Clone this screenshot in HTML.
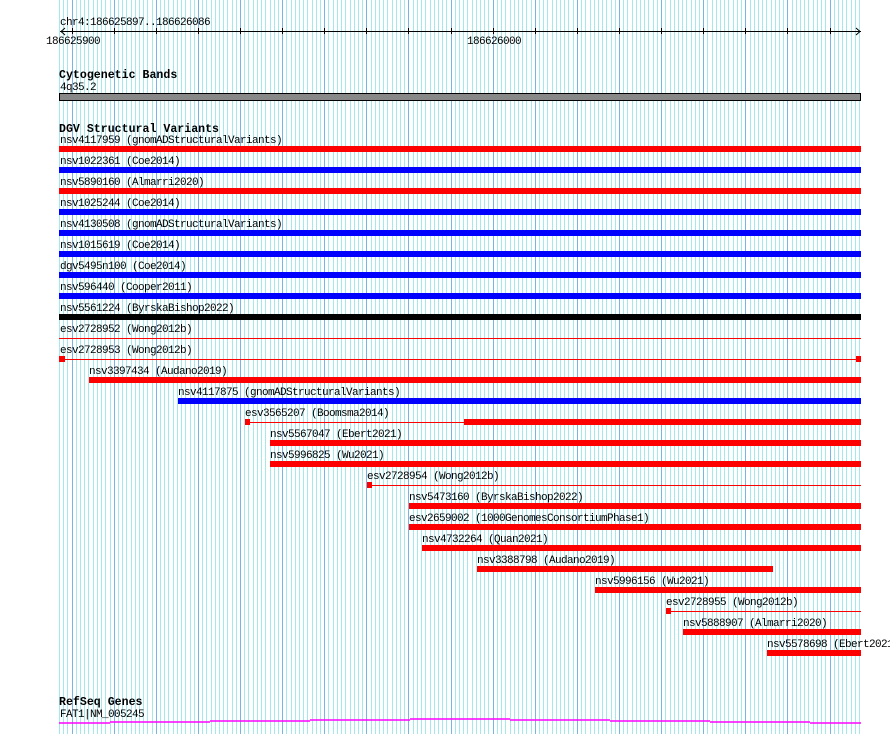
<!DOCTYPE html>
<html><head><meta charset="utf-8">
<style>
html,body{margin:0;padding:0;background:#fff;}
svg{display:block;}
text{font-family:"Liberation Mono",monospace;font-size:11px;letter-spacing:-0.6px;fill:#000;}
.h{font-weight:bold;font-size:11.6px;letter-spacing:0;}
</style></head>
<body>
<svg id="s" width="890" height="734" viewBox="0 0 890 734" xmlns="http://www.w3.org/2000/svg">
<g id="grid"></g>
<text x="60" y="25">chr4:186625897..186626086</text>
<line x1="60" y1="31.5" x2="861" y2="31.5" stroke="#000" stroke-width="1"/>
<polyline points="65,28 61,31.5 65,35" fill="none" stroke="#000"/>
<polyline points="856,28 860,31.5 856,35" fill="none" stroke="#000"/>
<g id="ticks" stroke="#000"></g>
<text x="46" y="44">186625900</text>
<text x="467" y="44">186626000</text>
<text class="h" x="59" y="78">Cytogenetic Bands</text>
<text x="60" y="90">4q35.2</text>
<rect x="59.5" y="93.5" width="801" height="7" fill="#888" stroke="#000"/>
<text class="h" x="59" y="132">DGV Structural Variants</text>
<g id="dgv">
<text x="60" y="143">nsv4117959 (gnomADStructuralVariants)</text>
<rect x="59" y="146" width="802" height="6" fill="#f00"/>
<text x="60" y="164">nsv1022361 (Coe2014)</text>
<rect x="59" y="167" width="802" height="6" fill="#00f"/>
<text x="60" y="185">nsv5890160 (Almarri2020)</text>
<rect x="59" y="188" width="802" height="6" fill="#f00"/>
<text x="60" y="206">nsv1025244 (Coe2014)</text>
<rect x="59" y="209" width="802" height="6" fill="#00f"/>
<text x="60" y="227">nsv4130508 (gnomADStructuralVariants)</text>
<rect x="59" y="230" width="802" height="6" fill="#00f"/>
<text x="60" y="248">nsv1015619 (Coe2014)</text>
<rect x="59" y="251" width="802" height="6" fill="#00f"/>
<text x="60" y="269">dgv5495n100 (Coe2014)</text>
<rect x="59" y="272" width="802" height="6" fill="#00f"/>
<text x="60" y="290">nsv596440 (Cooper2011)</text>
<rect x="59" y="293" width="802" height="6" fill="#00f"/>
<text x="60" y="311">nsv5561224 (ByrskaBishop2022)</text>
<rect x="59" y="314" width="802" height="6" fill="#000"/>
<text x="60" y="332">esv2728952 (Wong2012b)</text>
<rect x="59" y="338" width="802" height="1" fill="#f00"/>
<text x="60" y="353">esv2728953 (Wong2012b)</text>
<rect x="59" y="359" width="802" height="1" fill="#f00"/>
<rect x="59" y="356" width="6" height="6" fill="#f00"/>
<rect x="856" y="356" width="5" height="6" fill="#f00"/>
<text x="89" y="374">nsv3397434 (Audano2019)</text>
<rect x="89" y="377" width="772" height="6" fill="#f00"/>
<text x="178" y="395">nsv4117875 (gnomADStructuralVariants)</text>
<rect x="178" y="398" width="683" height="6" fill="#00f"/>
<text x="245" y="416">esv3565207 (Boomsma2014)</text>
<rect x="245" y="422" width="219" height="1" fill="#f00"/>
<rect x="245" y="419" width="5" height="6" fill="#f00"/>
<rect x="464" y="419" width="397" height="6" fill="#f00"/>
<text x="270" y="437">nsv5567047 (Ebert2021)</text>
<rect x="270" y="440" width="591" height="6" fill="#f00"/>
<text x="270" y="458">nsv5996825 (Wu2021)</text>
<rect x="270" y="461" width="591" height="6" fill="#f00"/>
<text x="367" y="479">esv2728954 (Wong2012b)</text>
<rect x="367" y="485" width="494" height="1" fill="#f00"/>
<rect x="367" y="482" width="5" height="6" fill="#f00"/>
<text x="409" y="500">nsv5473160 (ByrskaBishop2022)</text>
<rect x="409" y="503" width="452" height="6" fill="#f00"/>
<text x="409" y="521">esv2659002 (1000GenomesConsortiumPhase1)</text>
<rect x="409" y="524" width="452" height="6" fill="#f00"/>
<text x="422" y="542">nsv4732264 (Quan2021)</text>
<rect x="422" y="545" width="439" height="6" fill="#f00"/>
<text x="477" y="563">nsv3388798 (Audano2019)</text>
<rect x="477" y="566" width="296" height="6" fill="#f00"/>
<text x="595" y="584">nsv5996156 (Wu2021)</text>
<rect x="595" y="587" width="266" height="6" fill="#f00"/>
<text x="666" y="605">esv2728955 (Wong2012b)</text>
<rect x="666" y="611" width="195" height="1" fill="#f00"/>
<rect x="666" y="608" width="5" height="6" fill="#f00"/>
<text x="683" y="626">nsv5888907 (Almarri2020)</text>
<rect x="683" y="629" width="178" height="6" fill="#f00"/>
<text x="767" y="647">nsv5578698 (Ebert2021)</text>
<rect x="767" y="650" width="94" height="6" fill="#f00"/>
</g>
<text class="h" x="59" y="705">RefSeq Genes</text>
<text x="60" y="717">FAT1|NM_005245</text>
<g stroke="#f0f" stroke-width="1.5">
<line x1="59" y1="723" x2="110" y2="723"/>
<line x1="110" y1="722" x2="210" y2="722"/>
<line x1="210" y1="721" x2="310" y2="721"/>
<line x1="310" y1="720" x2="410" y2="720"/>
<line x1="410" y1="719" x2="510" y2="719"/>
<line x1="510" y1="720" x2="610" y2="720"/>
<line x1="610" y1="721" x2="710" y2="721"/>
<line x1="710" y1="722" x2="810" y2="722"/>
<line x1="810" y1="723" x2="861" y2="723"/>
</g>
</svg>
<script>
(function(){
var ns="http://www.w3.org/2000/svg";
var g=document.getElementById("grid"),t=document.getElementById("ticks");
var step=800/190;
for(var i=0;i<=190;i++){
 var x=Math.round(60+i*step)-0.5;
 var dark=((i-3)%10===0);
 var l=document.createElementNS(ns,"line");
 l.setAttribute("x1",x);l.setAttribute("x2",x);
 l.setAttribute("y1",0);l.setAttribute("y2",734);
 l.setAttribute("stroke",dark?"#78b4e4":"#a4e8ec");
 l.setAttribute("stroke-width","1");
 g.appendChild(l);
 if(dark){
  var k=document.createElementNS(ns,"line");
  k.setAttribute("x1",x);k.setAttribute("x2",x);
  k.setAttribute("y1",28);k.setAttribute("y2",34);
  t.appendChild(k);
 }
}
})();
</script>
</body></html>
